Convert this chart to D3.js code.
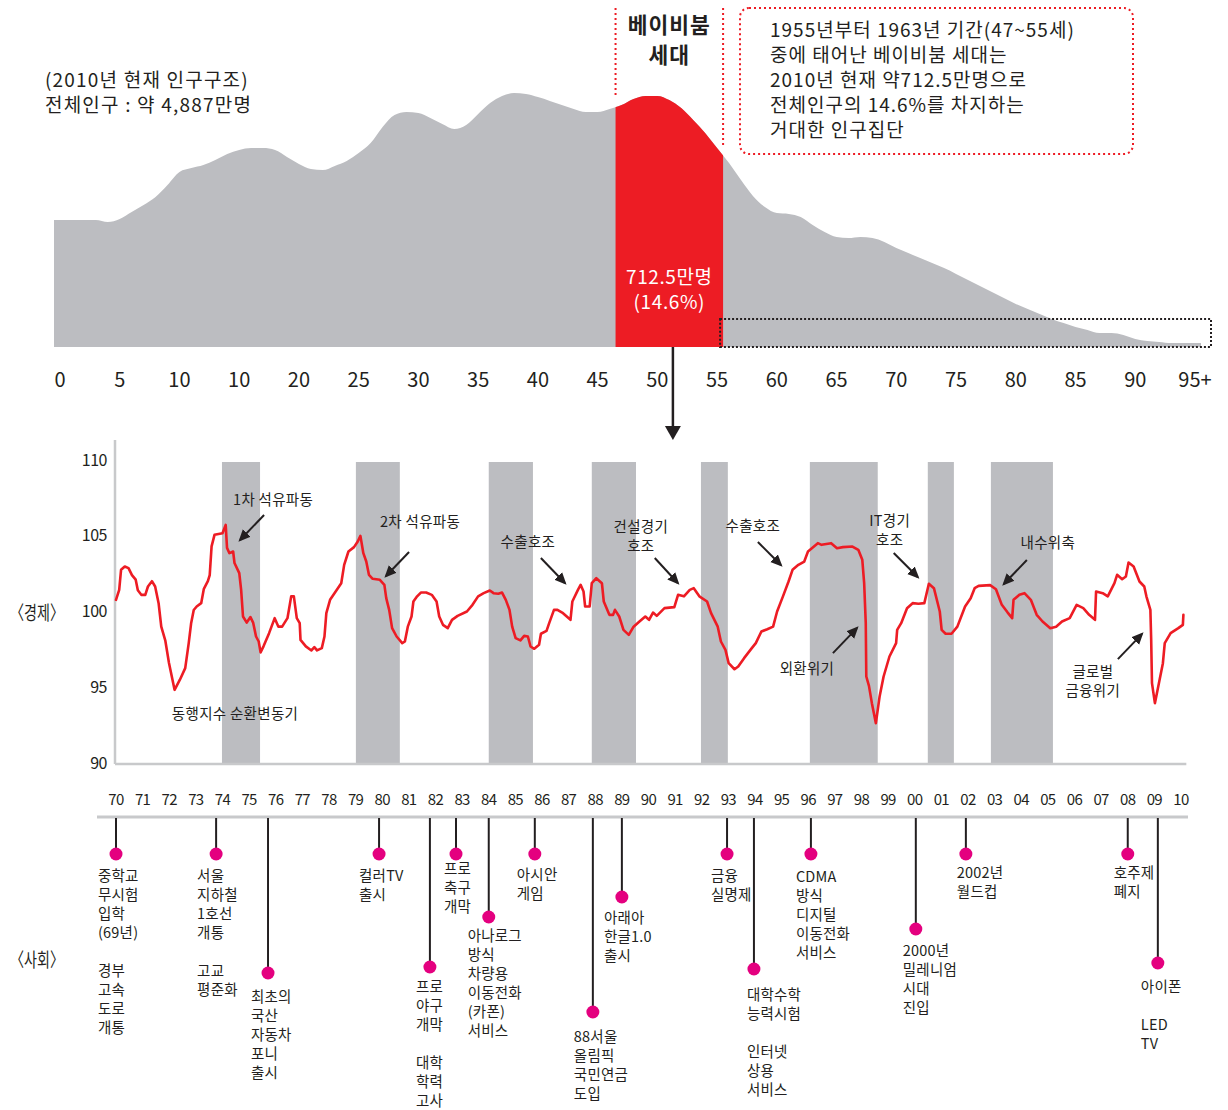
<!DOCTYPE html>
<html>
<head>
<meta charset="utf-8">
<script src="https://cdn.jsdelivr.net/npm/d3@7"></script>
<style>
    body { margin: 0; background: #fff; }
    svg text { font-family: "Noto Sans CJK KR", "Noto Sans", sans-serif; fill: #231f20; }
</style>
</head>
<body>
<div id="chart"></div>
<script>
// ---- population by single age, 2010 (thousand persons)
const popValues = [
    457, 457, 457, 457, 450, 461, 486, 511, 540, 583,
    630, 644, 655, 673, 695, 709, 716, 716, 709, 684,
    659, 641, 637, 652, 670, 698, 734, 792, 835, 846,
    842, 824, 803, 785, 799, 839, 878, 904, 914, 911,
    900, 886, 871, 857, 846, 846, 857, 871, 893, 904,
    904, 889, 860, 817, 770, 716, 662, 601, 544, 504,
    482, 479, 468, 439, 414, 396, 392, 396, 392, 378,
    356, 338, 320, 302, 284, 263, 241, 220, 198, 176,
    155, 137, 119, 101, 86, 72, 61, 50, 50, 43,
    29, 22, 18, 14, 14, 14
];
const ageTicks = [0, 5, 10, 15, 20, 25, 30, 35, 40, 45, 50, 55, 60, 65, 70, 75, 80, 85, 90, 95];
const ageTickLabels = ["0", "5", "10", "10", "20", "25", "30", "35", "40", "45", "50", "55",
    "60", "65", "70", "75", "80", "85", "90", "95+"];
const boomAges = [47, 55];

// ---- coincident index cyclical component
const econYears = [
    1970.0, 1970.12, 1970.19, 1970.33, 1970.47, 1970.6, 1970.74, 1970.82, 1970.95, 1971.1,
    1971.2, 1971.35, 1971.47, 1971.6, 1971.7, 1971.85, 1971.99, 1972.2, 1972.4, 1972.6,
    1972.73, 1972.82, 1972.92, 1973.03, 1973.2, 1973.3, 1973.45, 1973.52, 1973.59, 1973.7,
    1974.0, 1974.12, 1974.17, 1974.26, 1974.4, 1974.45, 1974.63, 1974.7, 1974.77, 1974.91,
    1975.05, 1975.15, 1975.26, 1975.36, 1975.43, 1975.54, 1975.75, 1975.96, 1976.1, 1976.24,
    1976.44, 1976.58, 1976.68, 1976.79, 1976.9, 1976.93, 1977.13, 1977.34, 1977.45, 1977.55,
    1977.73, 1977.83, 1977.9, 1978.04, 1978.25, 1978.46, 1978.57, 1978.73, 1978.94, 1979.08,
    1979.18, 1979.29, 1979.4, 1979.5, 1979.64, 1979.91, 1980.08, 1980.15, 1980.26, 1980.37,
    1980.54, 1980.75, 1980.85, 1980.96, 1981.1, 1981.17, 1981.31, 1981.45, 1981.65, 1981.86,
    1982.04, 1982.14, 1982.28, 1982.46, 1982.62, 1982.83, 1983.18, 1983.39, 1983.6, 1983.81,
    1984.04, 1984.18, 1984.36, 1984.5, 1984.64, 1984.78, 1984.88, 1985.01, 1985.19, 1985.33,
    1985.47, 1985.57, 1985.71, 1985.89, 1985.96, 1986.17, 1986.27, 1986.45, 1986.58, 1986.79,
    1987.07, 1987.14, 1987.35, 1987.45, 1987.56, 1987.62, 1987.79, 1987.87, 1988.04, 1988.25,
    1988.32, 1988.53, 1988.67, 1988.74, 1988.9, 1989.06, 1989.26, 1989.44, 1989.66, 1989.88,
    1990.02, 1990.17, 1990.31, 1990.6, 1990.97, 1991.11, 1991.33, 1991.55, 1991.7, 1991.91,
    1992.2, 1992.35, 1992.6, 1992.72, 1992.89, 1993.01, 1993.23, 1993.37, 1993.59, 1993.88,
    1994.03, 1994.24, 1994.46, 1994.68, 1994.83, 1995.05, 1995.26, 1995.41, 1995.63, 1995.85,
    1995.99, 1996.36, 1996.5, 1996.86, 1997.08, 1997.3, 1997.66, 1997.88, 1998.03, 1998.1,
    1998.16, 1998.18, 1998.28, 1998.39, 1998.54, 1998.68, 1998.83, 1999.05, 1999.3, 1999.34,
    1999.49, 1999.71, 1999.92, 2000.14, 2000.36, 2000.53, 2000.72, 2000.94, 2001.01, 2001.16,
    2001.38, 2001.6, 2001.89, 2002.1, 2002.25, 2002.4, 2002.83, 2003.05, 2003.27, 2003.49,
    2003.66, 2003.71, 2003.93, 2004.12, 2004.36, 2004.58, 2004.8, 2005.09, 2005.31, 2005.53,
    2005.82, 2006.08, 2006.33, 2006.55, 2006.77, 2006.81, 2007.06, 2007.25, 2007.5, 2007.6,
    2007.79, 2007.93, 2008.03, 2008.22, 2008.44, 2008.62, 2008.7, 2008.85, 2008.88, 2008.91,
    2009.02, 2009.17, 2009.32, 2009.39, 2009.61, 2009.9, 2010.07, 2010.09
];
const econValues = [
    100.77, 101.43, 102.75, 102.97, 102.86, 102.4, 102.1, 101.4, 101.1, 101.1,
    101.65, 102.0, 101.65, 100.55, 99.0, 98.1, 96.6, 94.83, 95.5, 96.26,
    97.9, 99.2, 100.1, 100.33, 100.55, 101.5, 102.0, 102.4, 104.3, 105.06,
    105.17, 105.72, 104.2, 103.85, 103.96, 103.2, 102.53, 101.43, 99.67, 99.27,
    99.63, 99.27, 98.35, 98.02, 97.3, 97.7, 98.57, 99.56, 99.0, 99.0,
    99.56, 101.0, 101.0, 99.56, 99.23, 98.13, 97.7, 97.43, 97.65, 97.43,
    97.58, 98.35, 99.89, 100.77, 101.32, 101.87, 103.08, 103.96, 104.25, 104.62,
    104.99, 103.85, 103.3, 102.42, 102.16, 102.09, 101.76, 100.88, 100.11, 98.9,
    98.35, 97.91, 98.02, 99.0, 99.67, 100.66, 101.0, 101.25, 101.25, 101.1,
    100.66, 99.67, 99.12, 98.9, 99.45, 99.71, 100.0, 100.44, 101.0, 101.21,
    101.39, 101.21, 101.17, 101.25, 100.77, 100.11, 99.0, 98.24, 98.09, 98.39,
    98.35, 97.69, 97.54, 97.8, 98.53, 98.72, 99.23, 100.11, 100.11, 99.89,
    99.45, 100.66, 101.43, 101.76, 101.32, 100.33, 100.33, 101.87, 102.2, 101.87,
    100.66, 99.78, 99.78, 100.11, 99.67, 98.79, 98.46, 99.0, 99.34, 99.67,
    99.45, 99.93, 99.71, 100.22, 100.29, 101.1, 101.0, 101.43, 101.54, 101.0,
    100.66, 99.89, 99.0, 98.02, 97.47, 96.59, 96.19, 96.37, 96.92, 97.58,
    97.91, 98.68, 98.83, 99.0, 100.0, 101.0, 101.98, 102.75, 103.08, 103.3,
    103.96, 104.51, 104.4, 104.51, 104.18, 104.25, 104.29, 104.07, 103.41, 101.87,
    99.23, 95.71, 95.09, 93.95, 92.63, 94.39, 95.71, 97.03, 97.91, 98.79,
    99.23, 100.22, 100.55, 100.51, 100.55, 101.83, 101.54, 100.0, 98.79, 98.53,
    98.53, 99.0, 100.33, 100.88, 101.54, 101.69, 101.74, 101.47, 100.44, 99.93,
    99.56, 100.77, 101.1, 101.21, 100.77, 99.78, 99.34, 98.9, 99.0, 99.34,
    99.56, 100.44, 100.22, 99.78, 99.45, 101.32, 101.21, 101.0, 101.87, 102.42,
    102.13, 102.31, 103.23, 102.97, 101.98, 101.65, 101.0, 100.11, 98.13, 95.27,
    93.95, 95.27, 96.59, 97.91, 98.57, 98.9, 99.12, 99.78
];
const recessions = [
    [1973.98, 1975.41], [1979.01, 1980.66], [1984.0, 1985.66], [1987.87, 1989.53],
    [1991.97, 1992.98], [1996.06, 1998.61], [2000.49, 2001.47], [2002.86, 2005.19]
];
const econTicks = [90, 95, 100, 105, 110];
const yearLabels = ["70", "71", "72", "73", "74", "75", "76", "77", "78", "79",
    "80", "81", "82", "83", "84", "85", "86", "87", "88", "89",
    "90", "91", "92", "93", "94", "95", "96", "97", "98", "99",
    "00", "01", "02", "03", "04", "05", "06", "07", "08", "09", "10"];

// annotations: text anchored in data space, arrow as pixel offsets from the text
const notes = [
    { lines: ["1차 석유파동"], year: 1975.9, value: 107.36, arrow: [-9, 15, -33, 40] },
    { lines: ["2차 석유파동"], year: 1981.42, value: 105.91, arrow: [-11, 30, -34, 54] },
    { lines: ["수출호조"], year: 1985.47, value: 104.59, arrow: [13, 16, 37, 41] },
    { lines: ["건설경기", "호조"], year: 1989.71, value: 105.58, arrow: [14, 31, 37, 56] },
    { lines: ["수출호조"], year: 1993.92, value: 105.64, arrow: [5, 16, 28, 39] },
    { lines: ["IT경기", "호조"], year: 1999.06, value: 105.97, arrow: [4, 32, 28, 56] },
    { lines: ["내수위축"], year: 2005.0, value: 104.52, arrow: [-21, 17, -44, 41] },
    { lines: ["외환위기"], year: 1995.95, value: 96.2, arrow: [26, -16, 50, -41] },
    { lines: ["글로벌", "금융위기"], year: 2006.69, value: 96.0, arrow: [25, -13, 49, -38] },
    { lines: ["동행지수 순환변동기"], year: 1974.47, value: 93.23, arrow: null }
];

// ---- social events
const eventYears = [1970.0, 1973.76, 1975.71, 1979.88, 1981.79, 1982.77, 1984.0, 1985.73,
    1987.91, 1989.0, 1992.95, 1993.96, 1996.1, 2000.04, 2001.92, 2008.0, 2009.13];
const eventTexts = [
    ["중학교", "무시험", "입학", "(69년)", "", "경부", "고속", "도로", "개통"],
    ["서울", "지하철", "1호선", "개통", "", "고교", "평준화"],
    ["최초의", "국산", "자동차", "포니", "출시"],
    ["컬러TV", "출시"],
    ["프로", "야구", "개막", "", "대학", "학력", "고사"],
    ["프로", "축구", "개막"],
    ["아나로그", "방식", "차량용", "이동전화", "(카폰)", "서비스"],
    ["아시안", "게임"],
    ["88서울", "올림픽", "국민연금", "도입"],
    ["아래아", "한글1.0", "출시"],
    ["금융", "실명제"],
    ["대학수학", "능력시험", "", "인터넷", "상용", "서비스"],
    ["CDMA", "방식", "디지털", "이동전화", "서비스"],
    ["2000년", "밀레니엄", "시대", "진입"],
    ["2002년", "월드컵"],
    ["호주제", "폐지"],
    ["아이폰", "", "LED", "TV"]
];
// layout of the event stems (px)
const stemDepth = [37, 37, 156, 37, 150, 37, 100, 37, 195, 80, 37, 152, 37, 112, 37, 37, 146];
const textDx = [-18, -19, -17, -20, -14, -12, -21, -18, -19, -18, -16, -7, -15, -13, -9, -14, -17];
const textDy = [22, 22, 24, 22, 20, 15, 19, 21, 25, 21, 22, 26, 23, 22, 19, 19, 24];

const W = 1228, H = 1110;
const RED = "#ed1c24", GREY = "#bcbdc1", PINK = "#e4007f", INK = "#231f20";

const svg = d3.select("#chart").append("svg").attr("width", W).attr("height", H);

const defs = svg.append("defs");
defs.append("marker")
    .attr("id", "arrowhead")
    .attr("viewBox", "0 0 10 10")
    .attr("refX", 8).attr("refY", 5)
    .attr("markerWidth", 6).attr("markerHeight", 6)
    .attr("orient", "auto")
    .append("path").attr("d", "M0,0.5 L10,5 L0,9.5 z").attr("fill", INK);

// multi-line text: one tspan per line, blank lines keep their slot
function multiline(sel, lines, lineHeight) {
    const x0 = +sel.attr("x"), y0 = +sel.attr("y");
    sel.selectAll("tspan")
        .data(lines)
        .enter().append("tspan")
        .attr("x", x0)
        .attr("y", (d, i) => y0 + i * lineHeight)
        .text(d => d);
}

// =================== population structure ===================
const xAge = d3.scaleLinear().domain([-0.5, 95.5]).range([54, 1201]);
const yPop = d3.scaleLinear().domain([0, 900]).range([347, 97]);

const popData = popValues.map((v, i) => ({ age: i, v }));
popData.unshift({ age: -0.5, v: popValues[0] });
popData.push({ age: 95.5, v: popValues[popValues.length - 1] });

const area = d3.area()
    .x(d => xAge(d.age))
    .y0(yPop(0))
    .y1(d => yPop(d.v))
    .curve(d3.curveMonotoneX);

defs.append("clipPath").attr("id", "boomClip")
    .append("rect")
    .attr("x", xAge(boomAges[0] - 0.5))
    .attr("y", 0)
    .attr("width", xAge(boomAges[1] + 0.5) - xAge(boomAges[0] - 0.5))
    .attr("height", yPop(0));

const popG = svg.append("g");
popG.append("path").datum(popData).attr("d", area).attr("fill", GREY);
popG.append("path").datum(popData).attr("d", area).attr("fill", RED).attr("clip-path", "url(#boomClip)");

// dotted guides of the boom band
[boomAges[0] - 0.5, boomAges[1] + 0.5].forEach((a, i) => {
    const yEnd = yPop(popValues[boomAges[i]]) - (i === 0 ? 8 : 0);
    popG.append("line")
        .attr("x1", xAge(a)).attr("x2", xAge(a))
        .attr("y1", 8).attr("y2", yEnd)
        .attr("stroke", RED).attr("stroke-width", 2)
        .attr("stroke-dasharray", "2,3");
});

popG.append("text")
    .attr("x", xAge(51))
    .attr("y", 33)
    .attr("text-anchor", "middle")
    .attr("font-size", 21.5)
    .attr("font-weight", 700)
    .attr("letter-spacing", 1)
    .call(multiline, ["베이비붐", "세대"], 30);

popG.append("text")
    .attr("x", xAge(51))
    .attr("y", 284)
    .attr("text-anchor", "middle")
    .attr("font-size", 19)
    .attr("letter-spacing", 0.6)
    .style("fill", "#fff")
    .call(multiline, ["712.5만명", "(14.6%)"], 25);

// info box
popG.append("rect")
    .attr("x", 740).attr("y", 8).attr("width", 393).attr("height", 146)
    .attr("rx", 9)
    .attr("fill", "none").attr("stroke", RED).attr("stroke-width", 2)
    .attr("stroke-dasharray", "2,3");
popG.append("text")
    .attr("x", 770)
    .attr("y", 37)
    .attr("font-size", 19)
    .attr("letter-spacing", 1)
    .call(multiline, ["1955년부터 1963년 기간(47~55세)", "중에 태어난 베이비붐 세대는",
        "2010년 현재 약712.5만명으로", "전체인구의 14.6%를 차지하는", "거대한 인구집단"], 25);

popG.append("text")
    .attr("x", 45)
    .attr("y", 87)
    .attr("font-size", 19)
    .attr("letter-spacing", 1.2)
    .call(multiline, ["(2010년 현재 인구구조)", "전체인구 : 약 4,887만명"], 25);

// dotted frame over the old ages
popG.append("rect")
    .attr("x", xAge(boomAges[1] + 0.5) - 3).attr("y", 319)
    .attr("width", 1211 - xAge(boomAges[1] + 0.5) + 3).attr("height", 28)
    .attr("fill", "none").attr("stroke", INK).attr("stroke-width", 2)
    .attr("stroke-dasharray", "2,2");

popG.selectAll("text.ageTick")
    .data(ageTicks)
    .enter().append("text")
    .attr("class", "ageTick")
    .attr("x", d => xAge(d))
    .attr("y", 378)
    .attr("text-anchor", "middle")
    .attr("dominant-baseline", "central")
    .attr("font-size", 20)
    .text((d, i) => ageTickLabels[i]);

// pointer arrow down to the economy chart
const arrowX = xAge(51.3);
popG.append("line")
    .attr("x1", arrowX).attr("x2", arrowX)
    .attr("y1", yPop(0)).attr("y2", 428)
    .attr("stroke", INK).attr("stroke-width", 2.5);
popG.append("path")
    .attr("d", `M${arrowX - 8},426 L${arrowX + 8},426 L${arrowX},440 z`)
    .attr("fill", INK);

// =================== economy ===================
const xYear = d3.scaleLinear().domain([1970, 2010]).range([116, 1181]);
const yEcon = d3.scaleLinear().domain([90, 110]).range([763, 460]);

const econ = svg.append("g");
econ.selectAll("rect.recession")
    .data(recessions)
    .enter().append("rect")
    .attr("class", "recession")
    .attr("x", d => xYear(d[0]))
    .attr("width", d => xYear(d[1]) - xYear(d[0]))
    .attr("y", yEcon(110) + 2)
    .attr("height", yEcon(90) - yEcon(110))
    .attr("fill", GREY);

econ.append("line")
    .attr("x1", 115).attr("x2", 115).attr("y1", 440).attr("y2", yEcon(90) + 1)
    .attr("stroke", "#c8c9cb").attr("stroke-width", 2.5);
econ.append("line")
    .attr("x1", 115).attr("x2", xYear(2010.2)).attr("y1", yEcon(90) + 1).attr("y2", yEcon(90) + 1)
    .attr("stroke", "#c8c9cb").attr("stroke-width", 2.5);

const yAxis = econ.append("g")
    .attr("transform", "translate(107,0)")
    .call(d3.axisLeft(yEcon).tickValues(econTicks).tickSize(0).tickPadding(0));
yAxis.select(".domain").remove();
yAxis.selectAll("text")
    .attr("font-size", 16)
    .attr("letter-spacing", -0.5)
    .style("font-family", "\"Noto Sans CJK KR\", sans-serif")
    .style("fill", INK);

const econLine = d3.line()
    .x((d, i) => xYear(econYears[i]))
    .y(d => yEcon(d));
econ.append("path")
    .datum(econValues)
    .attr("d", econLine)
    .attr("fill", "none")
    .attr("stroke", RED)
    .attr("stroke-width", 2.6)
    .attr("stroke-linejoin", "round")
    .attr("stroke-linecap", "round");

const noteG = econ.selectAll("g.note")
    .data(notes)
    .enter().append("g")
    .attr("class", "note")
    .attr("transform", d => `translate(${xYear(d.year)},${yEcon(d.value)})`);
noteG.append("text")
    .attr("x", 0)
    .attr("y", 5)
    .attr("text-anchor", "middle")
    .attr("font-size", 14.5)
    .attr("letter-spacing", 0.3)
    .each(function (d) { d3.select(this).call(multiline, d.lines, 19); });
noteG.filter(d => d.arrow)
    .append("line")
    .attr("x1", d => d.arrow[0]).attr("y1", d => d.arrow[1])
    .attr("x2", d => d.arrow[2]).attr("y2", d => d.arrow[3])
    .attr("stroke", INK).attr("stroke-width", 2)
    .attr("marker-end", "url(#arrowhead)");

// side labels
svg.selectAll("text.side")
    .data([["〈경제〉", yEcon(100)], ["〈사회〉", 958]])
    .enter().append("text")
    .attr("class", "side")
    .attr("x", 10)
    .attr("y", d => d[1])
    .attr("dominant-baseline", "central")
    .attr("font-size", 19)
    .attr("textLength", 54)
    .attr("lengthAdjust", "spacingAndGlyphs")
    .text(d => d[0]);

// =================== society timeline ===================
const soc = svg.append("g");
const lineY = 817;

soc.selectAll("text.year")
    .data(yearLabels)
    .enter().append("text")
    .attr("class", "year")
    .attr("x", (d, i) => xYear(1970 + i))
    .attr("y", 798)
    .attr("text-anchor", "middle")
    .attr("dominant-baseline", "central")
    .attr("font-size", 15)
    .attr("letter-spacing", -0.6)
    .text(d => d);

soc.append("line")
    .attr("x1", 97).attr("x2", 1188).attr("y1", lineY).attr("y2", lineY)
    .attr("stroke", "#c8c9cb").attr("stroke-width", 3);

const ev = soc.selectAll("g.event")
    .data(eventYears)
    .enter().append("g")
    .attr("class", "event")
    .attr("transform", d => `translate(${xYear(d)},${lineY})`);
ev.append("line")
    .attr("x1", 0).attr("x2", 0)
    .attr("y1", 1).attr("y2", (d, i) => stemDepth[i])
    .attr("stroke", INK).attr("stroke-width", 2);
ev.append("circle")
    .attr("cx", 0).attr("cy", (d, i) => stemDepth[i])
    .attr("r", 6.5)
    .attr("fill", PINK);
ev.append("text")
    .attr("x", (d, i) => textDx[i])
    .attr("y", (d, i) => stemDepth[i] + textDy[i] + 5)
    .attr("font-size", 14.5)
    .attr("letter-spacing", 0.2)
    .each(function (d, i) { d3.select(this).call(multiline, eventTexts[i], 19); });
</script>
</body>
</html>
